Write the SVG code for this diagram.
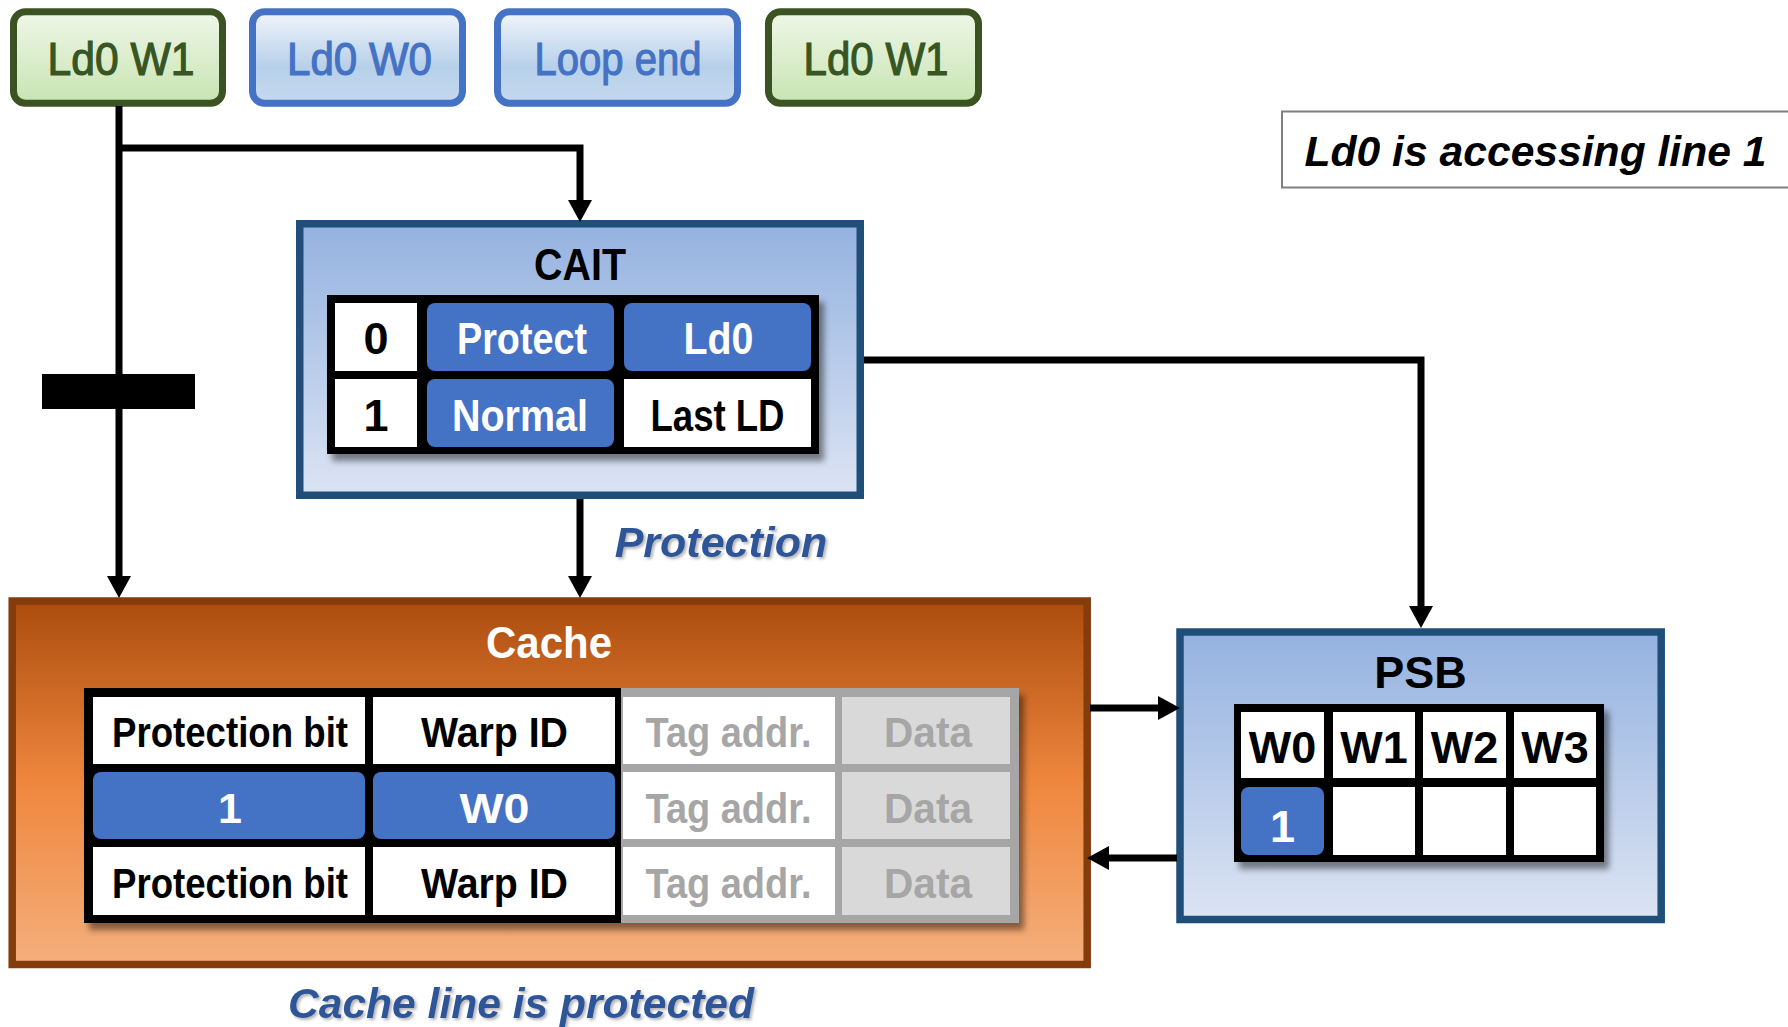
<svg xmlns="http://www.w3.org/2000/svg" width="1788" height="1027" viewBox="0 0 1788 1027">
<style>
text{font-family:"Liberation Sans",Arial,sans-serif;text-anchor:middle}
.b{font-weight:bold}
.lbl{font-size:47px;stroke-width:1.2px}
.grn{fill:#375623;stroke:#375623}
.blu{fill:#4472C4;stroke:#4472C4}
.t44{font-size:45px;font-weight:bold}
.t42{font-size:43px;font-weight:bold}
.wt{fill:#ffffff}
.bk{fill:#000000}
.gy{fill:#A6A6A6}
.ital{font-style:italic;font-weight:bold;fill:#2F5597}
.gbox{fill:url(#gGreen);stroke:#3B5323;stroke-width:7}
.bbox{fill:url(#gBlueL);stroke:#4472C4;stroke-width:7}
.panel{fill:url(#gPanel);stroke:#1F4E79;stroke-width:7.5}
.cell{fill:#ffffff}
.bcell{fill:#4472C4}
.dcell{fill:#D9D9D9}
.conn{fill:none;stroke:#000;stroke-width:7;marker-end:url(#arr)}
</style>
<defs>
<linearGradient id="gGreen" x1="0" y1="0" x2="0" y2="1"><stop offset="0" stop-color="#EFF7E8"/><stop offset="1" stop-color="#C8E4B2"/></linearGradient>
<linearGradient id="gBlueL" x1="0" y1="0" x2="0" y2="1"><stop offset="0" stop-color="#F1F5FB"/><stop offset="0.6" stop-color="#B7D0EA"/><stop offset="1" stop-color="#C5D9EF"/></linearGradient>
<linearGradient id="gPanel" x1="0" y1="0" x2="0" y2="1"><stop offset="0" stop-color="#94B2E0"/><stop offset="1" stop-color="#DCE4F3"/></linearGradient>
<linearGradient id="gCache" x1="0" y1="0" x2="0" y2="1"><stop offset="0" stop-color="#AB4C0E"/><stop offset="0.5" stop-color="#EF873E"/><stop offset="1" stop-color="#F4AF7C"/></linearGradient>
<filter id="sh" x="-10%" y="-10%" width="125%" height="130%"><feDropShadow dx="5" dy="7" stdDeviation="3" flood-color="#000" flood-opacity="0.45"/></filter>
<filter id="tsh" x="-5%" y="-20%" width="110%" height="150%"><feDropShadow dx="2" dy="2" stdDeviation="1.5" flood-color="#000" flood-opacity="0.3"/></filter>
<marker id="arr" markerUnits="userSpaceOnUse" markerWidth="24" markerHeight="24" refX="12" refY="12" orient="auto"><path d="M0,0 L22,12 L0,24 Z" fill="#000"/></marker>
</defs>
<rect width="1788" height="1027" fill="#ffffff"/>

<g id="box-ld0w1-a">
<rect class="gbox" x="13.5" y="11.8" width="209" height="91.5" rx="12"/>
<text class="lbl grn" x="121" y="75" textLength="147" lengthAdjust="spacingAndGlyphs">Ld0 W1</text>
</g>
<g id="box-ld0w0">
<rect class="bbox" x="252.5" y="11.8" width="210" height="91.5" rx="12"/>
<text class="lbl blu" x="359.5" y="75" textLength="145" lengthAdjust="spacingAndGlyphs">Ld0 W0</text>
</g>
<g id="box-loopend">
<rect class="bbox" x="497.5" y="11.8" width="240" height="91.5" rx="12"/>
<text class="lbl blu" x="618" y="75" textLength="167" lengthAdjust="spacingAndGlyphs">Loop end</text>
</g>
<g id="box-ld0w1-b">
<rect class="gbox" x="768.5" y="11.8" width="210" height="91.5" rx="12"/>
<text class="lbl grn" x="876" y="75" textLength="145" lengthAdjust="spacingAndGlyphs">Ld0 W1</text>
</g>

<g id="note">
<rect x="1282" y="111.5" width="520" height="76" fill="#ffffff" stroke="#7F7F7F" stroke-width="2"/>
<text x="1535.5" y="166" font-size="43" font-style="italic" font-weight="bold" textLength="462" lengthAdjust="spacingAndGlyphs">Ld0 is accessing line 1</text>
</g>

<g id="cait">
<rect class="panel" x="299.75" y="223.75" width="560.5" height="271.5"/>
<text class="t44 bk" x="580" y="280" textLength="92" lengthAdjust="spacingAndGlyphs">CAIT</text>
<rect x="327" y="295" width="492" height="159" fill="#000" filter="url(#sh)"/>
<rect class="cell" x="335" y="303" width="82" height="68"/>
<rect class="bcell" x="427" y="303" width="187" height="68" rx="8"/>
<rect class="bcell" x="624" y="303" width="187" height="68" rx="8"/>
<rect class="cell" x="335" y="379" width="82" height="68"/>
<rect class="bcell" x="427" y="379" width="187" height="68" rx="8"/>
<rect class="cell" x="624" y="379" width="187" height="68"/>
<text class="t44 bk" x="376" y="354">0</text>
<text class="t44 wt" x="522" y="354" textLength="130" lengthAdjust="spacingAndGlyphs">Protect</text>
<text class="t44 wt" x="718.5" y="354" textLength="70" lengthAdjust="spacingAndGlyphs">Ld0</text>
<text class="t44 bk" x="376" y="431">1</text>
<text class="t44 wt" x="520" y="431" textLength="136" lengthAdjust="spacingAndGlyphs">Normal</text>
<text class="t44 bk" x="717.5" y="431" textLength="134" lengthAdjust="spacingAndGlyphs">Last LD</text>
</g>

<g id="cache">
<rect x="12.2" y="601" width="1075" height="363.5" fill="url(#gCache)" stroke="#843C0C" stroke-width="7.5"/>
<text class="t44 wt" x="549" y="658" textLength="126" lengthAdjust="spacingAndGlyphs">Cache</text>
<g filter="url(#sh)">
<rect x="84" y="688" width="537" height="235" fill="#000"/>
<rect x="621" y="688" width="398" height="235" fill="#A6A6A6"/>
</g>
<rect class="cell" x="93" y="697" width="272" height="67"/>
<rect class="cell" x="373" y="697" width="242" height="67"/>
<rect class="cell" x="623" y="697" width="212" height="67"/>
<rect class="dcell" x="842" y="697" width="168" height="67"/>
<rect class="bcell" x="93" y="772" width="272" height="67" rx="8"/>
<rect class="bcell" x="373" y="772" width="242" height="67" rx="8"/>
<rect class="cell" x="623" y="772" width="212" height="67"/>
<rect class="dcell" x="842" y="772" width="168" height="67"/>
<rect class="cell" x="93" y="847" width="272" height="68"/>
<rect class="cell" x="373" y="847" width="242" height="68"/>
<rect class="cell" x="623" y="847" width="212" height="68"/>
<rect class="dcell" x="842" y="847" width="168" height="68"/>
<text class="t42 bk" x="230" y="747" textLength="236" lengthAdjust="spacingAndGlyphs">Protection bit</text>
<text class="t42 bk" x="494.5" y="747" textLength="147" lengthAdjust="spacingAndGlyphs">Warp ID</text>
<text class="t42 gy" x="728.5" y="747" textLength="166" lengthAdjust="spacingAndGlyphs">Tag addr.</text>
<text class="t42 gy" x="928" y="747" textLength="88" lengthAdjust="spacingAndGlyphs">Data</text>
<text class="t42 wt" x="230" y="823">1</text>
<text class="t42 wt" x="494.5" y="823" textLength="70" lengthAdjust="spacingAndGlyphs">W0</text>
<text class="t42 gy" x="728.5" y="823" textLength="166" lengthAdjust="spacingAndGlyphs">Tag addr.</text>
<text class="t42 gy" x="928" y="823" textLength="88" lengthAdjust="spacingAndGlyphs">Data</text>
<text class="t42 bk" x="230" y="898" textLength="236" lengthAdjust="spacingAndGlyphs">Protection bit</text>
<text class="t42 bk" x="494.5" y="898" textLength="147" lengthAdjust="spacingAndGlyphs">Warp ID</text>
<text class="t42 gy" x="728.5" y="898" textLength="166" lengthAdjust="spacingAndGlyphs">Tag addr.</text>
<text class="t42 gy" x="928" y="898" textLength="88" lengthAdjust="spacingAndGlyphs">Data</text>
</g>

<g id="psb">
<rect class="panel" x="1180" y="632" width="481.2" height="287.5"/>
<text class="t44 bk" x="1420.5" y="688">PSB</text>
<rect x="1234" y="704" width="370" height="158" fill="#000" filter="url(#sh)"/>
<rect class="cell" x="1241" y="712" width="83" height="66"/>
<rect class="cell" x="1333" y="712" width="82" height="66"/>
<rect class="cell" x="1423" y="712" width="83" height="66"/>
<rect class="cell" x="1514" y="712" width="82" height="66"/>
<rect class="bcell" x="1241" y="787" width="83" height="68" rx="8"/>
<rect class="cell" x="1333" y="787" width="82" height="68"/>
<rect class="cell" x="1423" y="787" width="83" height="68"/>
<rect class="cell" x="1514" y="787" width="82" height="68"/>
<text class="t44 bk" x="1282.5" y="763">W0</text>
<text class="t44 bk" x="1374" y="763">W1</text>
<text class="t44 bk" x="1464.5" y="763">W2</text>
<text class="t44 bk" x="1555" y="763">W3</text>
<text class="t44 wt" x="1282.5" y="842">1</text>
</g>

<g id="connectors">
<path class="conn" d="M119,106 V588"/>
<path class="conn" d="M119,148 H580 V212"/>
<path class="conn" d="M580,499 V588"/>
<path class="conn" d="M864,360 H1421 V618"/>
<path class="conn" d="M1090,708 H1170"/>
<path class="conn" d="M1177,858 H1097"/>
<rect id="stall-bar" x="42" y="374" width="153" height="35" fill="#000"/>
</g>

<g id="labels">
<text class="ital" x="721" y="557" font-size="43" filter="url(#tsh)">Protection</text>
<text class="ital" x="521" y="1018" font-size="43" textLength="466" lengthAdjust="spacingAndGlyphs" filter="url(#tsh)">Cache line is protected</text>
</g>
</svg>
